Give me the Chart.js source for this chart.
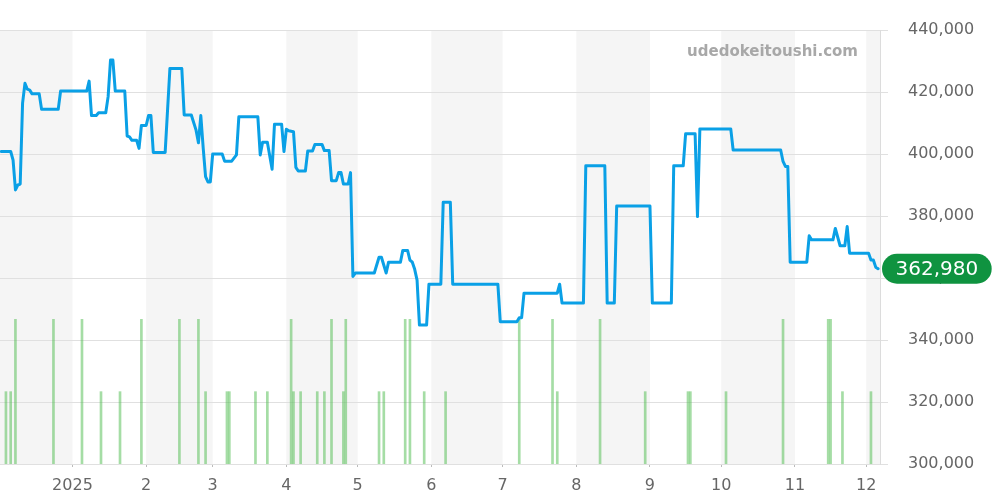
<!DOCTYPE html>
<html><head><meta charset="utf-8">
<script src="https://cdn.jsdelivr.net/npm/chart.js@4.4.1/dist/chart.umd.min.js"></script>
<style>html,body{margin:0;padding:0;background:#fff;} #wrap{width:1000px;height:500px;position:relative;}</style>
</head><body><div id="wrap"><canvas id="c" width="1000" height="500"></canvas></div>
<script>
// days counted from 2024-12-01 (day 0)
const priceDays = [1,5,6,7,8,9,10,11,12,13,14,17,18,25,26,37,38,39,41,42,45,46,47,48,49,53,54,55,56,58,59,60,62,63,64,65,70,72,77,78,81,83,84,85,86,87,88,89,90,94,95,98,100,101,109,110,111,113,115,116,119,120,121,122,124,125,126,129,130,132,133,136,137,139,140,142,143,144,145,147,148,149,150,158,160,161,163,164,169,170,172,173,174,175,176,177,180,181,186,187,190,191,210,211,218,219,220,221,235,236,237,246,247,255,256,259,260,274,275,283,284,288,289,293,294,295,308,309,329,330,331,332,333,340,341,342,351,352,354,356,357,358,366,367,368,369,370];
const priceValues = [400800,400800,398000,388400,390000,390300,416400,422800,420900,420600,419400,419400,414400,414400,420300,420300,423500,412400,412400,413300,413300,418500,430300,430300,420300,420300,405800,405500,404400,404400,401800,409200,409200,412400,412400,400500,400500,427600,427600,412600,412600,407700,403600,412400,402000,392700,391000,391000,400000,400000,397700,397700,399700,412000,412000,399700,403800,403800,395100,409600,409600,400800,408000,407500,407200,395700,394500,394500,401000,401000,403100,403100,401100,401100,391400,391400,394000,394000,390300,390300,394000,360500,361600,361600,366700,366700,361600,365100,365100,368900,368900,365800,365100,362800,359300,344800,344800,358000,358000,384400,384400,358000,358000,345900,345900,347200,347200,355100,355100,358000,351900,351900,396200,396200,351900,351900,383200,383200,351900,351900,396200,396200,406500,406500,379800,408100,408100,401300,401300,397600,396000,396000,365100,365100,373600,372300,372300,376000,370400,370400,376600,368000,368000,365800,365800,363500,362980];
const volumeDays = [3,5,7,23,35,43,51,60,76,84,87,96,97,108,113,123,124,127,134,137,140,145,146,160,162,171,173,179,188,219,233,235,253,272,290,291,306,330,349,350,355,367];
const volumeValues = [1,1,2,2,2,1,1,2,2,2,1,1,1,1,1,2,1,1,1,1,2,1,2,1,1,2,2,1,1,2,2,1,2,1,1,1,1,2,2,2,1,1];
const monthTickDays = [31,62,90,121,151,182,212,243,274,304,335,365];
const monthTickLabels = ['2025','2','3','4','5','6','7','8','9','10','11','12'];
const shadedMonthStarts = [0,62,121,182,243,304,365];
const shadedMonthEnds = [31,90,151,212,274,335,396];
const latestPrice = 362980;
const watermarkText = 'udedokeitoushi.com';

const fontFamily = '"DejaVu Sans", sans-serif';

const bandPlugin = {
  id: 'bands',
  beforeDraw(chart) {
    const {ctx, chartArea: a, scales: {x}} = chart;
    ctx.save();
    ctx.fillStyle = '#f5f5f5';
    shadedMonthStarts.forEach((s, i) => {
      const x0 = Math.max(a.left, x.getPixelForValue(s));
      const x1 = Math.min(a.right, x.getPixelForValue(shadedMonthEnds[i]));
      if (x1 > x0) ctx.fillRect(x0, a.top, x1 - x0, a.bottom - a.top);
    });
    ctx.restore();
  }
};

const overlayPlugin = {
  id: 'overlay',
  afterDraw(chart) {
    const {ctx, chartArea: a, scales: {y}} = chart;
    ctx.save();
    // watermark
    ctx.font = 'bold 15px ' + fontFamily;
    ctx.fillStyle = '#a8a8a8';
    ctx.textAlign = 'right';
    ctx.textBaseline = 'middle';
    ctx.fillText(watermarkText, a.right - 22, a.top + 22);
    // latest price badge
    const yy = y.getPixelForValue(latestPrice);
    const text = latestPrice.toLocaleString('en-US');
    ctx.font = '20px ' + fontFamily;
    const w = ctx.measureText(text).width + 27;
    const h = 30;
    const x0 = a.right + 2;
    const r = h / 2;
    ctx.fillStyle = '#0f9340';
    ctx.beginPath();
    ctx.moveTo(x0 + r, yy - r);
    ctx.lineTo(x0 + w - r, yy - r);
    ctx.arc(x0 + w - r, yy, r, -Math.PI / 2, Math.PI / 2);
    ctx.lineTo(x0 + r, yy + r);
    ctx.arc(x0 + r, yy, r, Math.PI / 2, Math.PI * 1.5);
    ctx.closePath();
    ctx.fill();
    ctx.fillStyle = '#ffffff';
    ctx.textAlign = 'center';
    ctx.textBaseline = 'middle';
    ctx.fillText(text, x0 + w / 2, yy + 1);
    ctx.restore();
  }
};

new Chart(document.getElementById('c'), {
  type: 'bar',
  data: {
    datasets: [
      {
        type: 'line',
        data: priceDays.map((d, i) => ({x: d, y: priceValues[i]})),
        borderColor: '#0aa0e6',
        borderWidth: 3,
        borderJoinStyle: 'round',
        borderCapStyle: 'round',
        pointRadius: 0,
        tension: 0,
        fill: false,
        yAxisID: 'y',
        order: 0
      },
      {
        type: 'bar',
        data: volumeDays.map((d, i) => ({x: d, y: volumeValues[i]})),
        backgroundColor: 'rgba(76,187,76,0.5)',
        barThickness: 2,
        yAxisID: 'yv',
        order: 1
      }
    ]
  },
  options: {
    responsive: false,
    animation: false,
    layout: {padding: {top: 30, left: 0, right: 0, bottom: 0}},
    plugins: {legend: {display: false}, tooltip: {enabled: false}},
    scales: {
      x: {
        type: 'linear',
        min: 0.5,
        max: 370.8,
        offset: false,
        afterBuildTicks(s) { s.ticks = monthTickDays.map(v => ({value: v})); },
        ticks: {
          autoSkip: false,
          maxRotation: 0,
          color: '#666',
          padding: 9,
          font: {size: 16, family: fontFamily},
          callback: (v) => monthTickLabels[monthTickDays.indexOf(v)]
        },
        grid: {display: true, offset: false, drawOnChartArea: false, drawTicks: true, tickLength: 3, color: '#bbb'},
        border: {display: false},
        afterFit(s) { s.height = 36; }
      },
      y: {
        position: 'right',
        min: 300000,
        max: 440000,
        ticks: {
          stepSize: 20000,
          color: '#666',
          padding: 20,
          font: {size: 16, family: fontFamily},
          callback: (v) => v.toLocaleString('en-US')
        },
        grid: {color: '#e0e0e0', tickLength: 8, drawTicks: true},
        border: {display: true, color: '#dcdcdc'},
        afterFit(s) { s.width = 120; }
      },
      yv: {
        display: false,
        min: 0,
        max: 6
      }
    }
  },
  plugins: [bandPlugin, overlayPlugin]
});
</script>
</body></html>
